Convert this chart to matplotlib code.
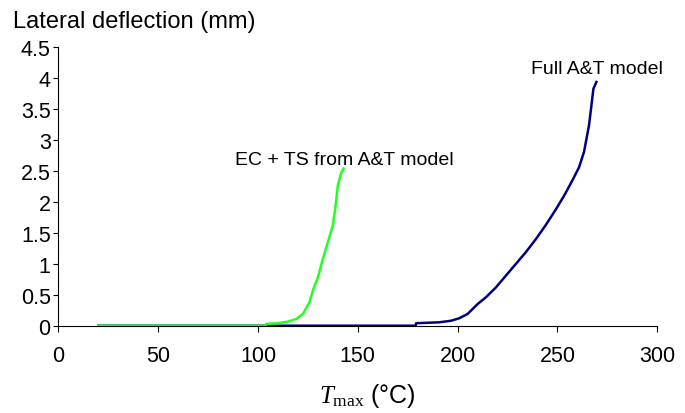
import matplotlib
matplotlib.use("Agg")
import matplotlib.pyplot as plt

plt.rcParams['font.family'] = ['Liberation Sans', 'DejaVu Sans']
plt.rcParams['mathtext.fontset'] = 'custom'
plt.rcParams['mathtext.rm'] = 'Liberation Serif'
plt.rcParams['mathtext.it'] = 'Liberation Serif:italic'

# Data
ec_T = [20, 60, 100, 104, 104.2, 110, 115, 119.2, 122.5, 125.8, 127.5, 130, 132.5,
        135, 137.5, 138.9, 140, 141.7, 142.9]
ec_d = [0, 0, 0, 0, 0.03, 0.04, 0.065, 0.11, 0.19, 0.38, 0.57, 0.78, 1.08,
        1.35, 1.62, 1.94, 2.27, 2.47, 2.54]

full_T = [20, 100, 150, 179, 179.2, 190.8, 196.7, 200.8, 205, 210, 214.2, 219.2,
          224.2, 229.2, 234.2, 239.2, 244.2, 249.2, 253.3, 257.5, 260.8, 263.3,
          265.8, 267, 268, 269.5]
full_d = [0, 0, 0, 0, 0.04, 0.055, 0.08, 0.12, 0.19, 0.35, 0.46, 0.62,
          0.81, 1.0, 1.19, 1.40, 1.63, 1.88, 2.10, 2.35, 2.56, 2.81,
          3.24, 3.56, 3.83, 3.94]

x_ticks = [0, 50, 100, 150, 200, 250, 300]
y_ticks = [0, 0.5, 1, 1.5, 2, 2.5, 3, 3.5, 4, 4.5]
y_tick_labels = ['0', '0.5', '1', '1.5', '2', '2.5', '3', '3.5', '4', '4.5']

W, H = 685, 414
fig = plt.figure(figsize=(W / 100, H / 100), dpi=100)
ax = fig.add_axes([58.3 / W, 1 - 326.7 / H, (657.3 - 58.3) / W, (326.7 - 48.3) / H])

ax.plot(full_T, full_d, color='#000080', lw=1.8, solid_joinstyle='round')
ax.plot(ec_T, ec_d, color='#22FF22', lw=1.8, solid_joinstyle='round')

ax.set_xlim(0, 300)
ax.set_ylim(0, 4.5)
ax.set_xticks(x_ticks)
ax.set_yticks(y_ticks)
ax.set_yticklabels(y_tick_labels)
for s in ['top', 'right']:
    ax.spines[s].set_visible(False)
for s in ['left', 'bottom']:
    ax.spines[s].set_color('black')
    ax.spines[s].set_linewidth(0.8)
ax.tick_params(axis='x', direction='out', length=4, width=0.8, pad=10, labelsize=15.5)
ax.tick_params(axis='y', direction='out', length=3.5, width=0.8, pad=2, labelsize=15.5)

ax.text(143, 2.62, 'EC + TS from A&T model', ha='center', va='baseline', fontsize=14)
ax.text(270, 4.09, 'Full A&T model', ha='center', va='baseline', fontsize=14)

fig.text(13 / W, 1 - 28 / H, 'Lateral deflection (mm)', ha='left', va='baseline', fontsize=17)
fig.text(367 / W, 1 - 403 / H, r'$\mathit{T}_{\mathrm{max}}$ (°C)', ha='center', va='baseline', fontsize=18)

fig.savefig('out.png', dpi=100)
